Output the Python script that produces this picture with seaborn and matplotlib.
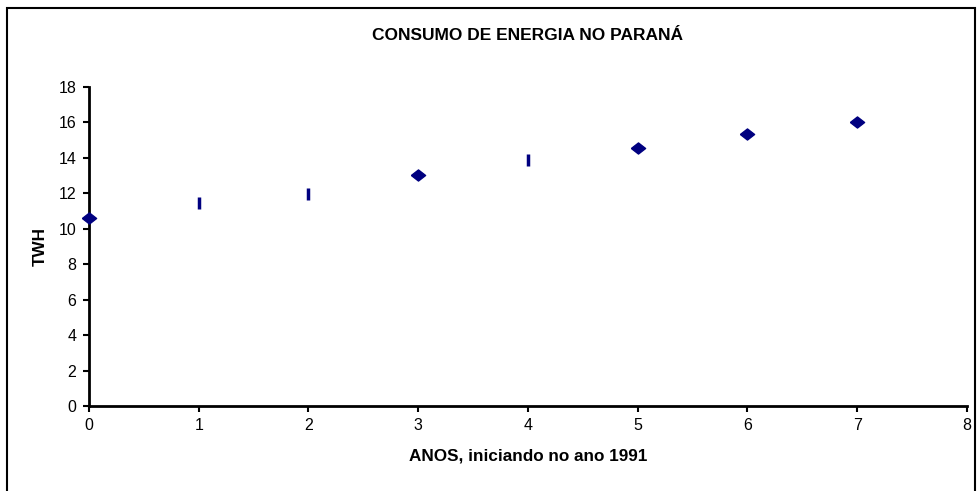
import matplotlib
matplotlib.use("Agg")
import matplotlib.pyplot as plt
import seaborn as sns
import pandas as pd
from matplotlib.patches import Rectangle

# data
anos = [0, 1, 2, 3, 4, 5, 6, 7]
twh = [10.63, 11.44, 11.96, 13.05, 13.88, 14.56, 15.35, 16.04]
# some points show up as thin bars in the original
forma = ["losango", "barra", "barra", "losango", "barra", "losango", "losango", "losango"]

df = pd.DataFrame({"anos": anos, "twh": twh, "forma": forma})

sns.set_style("white")
plt.rcParams['font.family'] = ['Liberation Sans', 'DejaVu Sans']
plt.rcParams['text.color'] = 'black'
plt.rcParams['axes.labelcolor'] = 'black'
plt.rcParams['xtick.color'] = 'black'
plt.rcParams['ytick.color'] = 'black'

fig = plt.figure(figsize=(9.79, 4.91), dpi=100)
W, H = 979, 491
ax = fig.add_axes([89 / W, 1 - 406 / H, (967 - 89) / W, (406 - 87) / H])

# flat diamond like excel draws it
losango = [(-1, 0), (0, 0.78), (1, 0), (0, -0.78), (-1, 0)]
sns.scatterplot(data=df[df["forma"] == "losango"], x="anos", y="twh",
                marker=losango, color="#000080", edgecolor="#000080", s=105,
                linewidth=1, legend=False, ax=ax, clip_on=False, zorder=5)
# thin bars
sns.scatterplot(data=df[df["forma"] == "barra"], x="anos", y="twh",
                marker="|", color="#000080", s=70, linewidth=2.5,
                legend=False, ax=ax, zorder=5)

ax.set_xlim(0, 8)
ax.set_ylim(0, 18)
ax.set_xticks(range(0, 9))
ax.set_yticks(range(0, 19, 2))
for side in ["top", "right"]:
    ax.spines[side].set_visible(False)
for side in ["left", "bottom"]:
    ax.spines[side].set_linewidth(2)
    ax.spines[side].set_color("black")
ax.tick_params(direction="out", length=4, width=1.5, labelsize=11.5, color="black",
               left=True, bottom=True, pad=5)
ax.set_xlabel("ANOS, iniciando no ano 1991", fontsize=12.3, fontweight="bold", labelpad=11)
ax.set_ylabel("TWH", fontsize=12.3, fontweight="bold", labelpad=8)

fig.text((89 + 967) / 2 / W, 1 - 35 / H, "CONSUMO DE ENERGIA NO PARANÁ",
         ha="center", va="center", fontsize=12.5, fontweight="bold")

# outer chart frame like the spreadsheet chart area
fig.patches.append(Rectangle((7 / W, -0.01), (975 - 7) / W, 1 - 8 / H + 0.01,
                             transform=fig.transFigure, fill=False,
                             edgecolor="black", linewidth=1.5))

plt.savefig("out.png", dpi=100)
